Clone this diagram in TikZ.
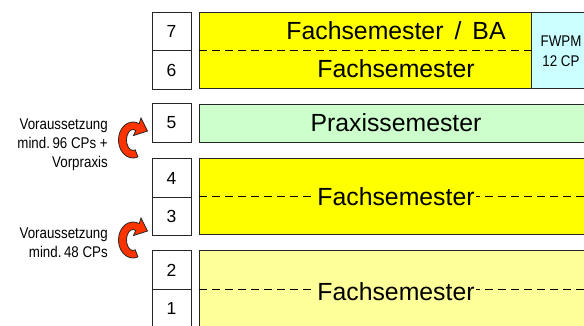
\documentclass[tikz,border=0pt]{standalone}
\usepackage{fontspec}
\setmainfont{Liberation Sans}
\newfontfamily\schmal[FakeStretch=0.86]{Liberation Sans}

\definecolor{gelb}{HTML}{FFFF00}
\definecolor{hellgelb}{HTML}{FFFF99}
\definecolor{gruen}{HTML}{CCFFCC}
\definecolor{hellblau}{HTML}{CCFFFF}
\definecolor{rahmen}{HTML}{262626}
\definecolor{rot}{HTML}{FF3300}

\tikzset{
  nummer/.style={draw=rahmen,line width=1pt,minimum width=39pt,minimum height=38.5pt,inner sep=0pt,font=\fontsize{17.5}{20}\selectfont},
  feld/.style={draw=rahmen,line width=1.2pt,inner sep=0pt,anchor=north west},
  titel/.style={font=\fontsize{24.8}{28}\selectfont,inner sep=1pt},
  klein/.style={font=\schmal\fontsize{15.5}{19.5}\selectfont,align=center},
  hinweis/.style={font=\schmal\fontsize{15.5}{19}\selectfont,align=right,anchor=east,inner sep=0pt},
  trenn/.style={draw=black,dashed,dash pattern=on 8pt off 5pt,line width=1pt},
  pfeil/.pic={
    \draw[fill=rot,draw=rahmen,line width=0.8pt]
      (65:14.5 and 18) arc[start angle=65,end angle=290,x radius=14.5,y radius=18]
      -- (290:6.5 and 10.5) arc[start angle=290,end angle=65,x radius=6.5,y radius=10.5]
      -- (0.5,4.5) -- (14.5,9) -- (8,22) -- cycle;
  }
}

\begin{document}
\begin{tikzpicture}[x=1pt,y=1pt]
  \useasboundingbox (0,0) rectangle (584,325);

  % Semester numbers
  \draw (171.5,293.5) node[nummer](n7) {7};
  \draw (171.5,255)   node[nummer](n6) {6};
  \draw (171.5,202)   node[nummer](n5) {5};
  \draw (171.5,147)   node[nummer](n4) {4};
  \draw (171.5,108.5) node[nummer](n3) {3};
  \draw (171.5,55)    node[nummer](n2) {2};
  \draw (171.5,16.5)  node[nummer](n1) {1};

  % Semester blocks
  \draw (199,313) node[feld,fill=gelb,minimum width=332pt,minimum height=76pt](fs67) {};
  \draw (531,313) node[feld,fill=hellblau,minimum width=69pt,minimum height=76pt](fwpm) {};
  \draw (199,221) node[feld,fill=gruen,minimum width=401pt,minimum height=38pt](ps) {};
  \draw (199,167) node[feld,fill=gelb,minimum width=401pt,minimum height=76pt](fs34) {};
  \draw (199,75)  node[feld,fill=hellgelb,minimum width=401pt,minimum height=78pt](fs12) {};

  \path[trenn] (fs67.west) -- (fs67.east);
  \path[trenn] (fs34.west) -- (fs34.east);
  \path[trenn] (fs12.west) -- (fs12.east);

  \draw (396,294) node[titel](t7) {Fachsemester \,/\, BA};
  \draw (396,256) node[titel](t6) {Fachsemester};
  \draw (561,274) node[klein](tw) {FWPM\\12 CP};
  \draw (396,202) node[titel](t5) {Praxissemester};
  \draw (396,128) node[titel,fill=gelb](t34) {Fachsemester};
  \draw (396,33)  node[titel,fill=hellgelb](t12) {Fachsemester};

  % Voraussetzungen
  \draw (108,180) node[hinweis](v5) {Voraussetzung\\mind.\,96 CPs +\\Vorpraxis};
  \draw (108,82.5) node[hinweis](v3) {Voraussetzung\\mind.\,48 CPs};

  \pic at (133,185) {pfeil};
  \pic at (133,85) {pfeil};

\end{tikzpicture}
\end{document}
